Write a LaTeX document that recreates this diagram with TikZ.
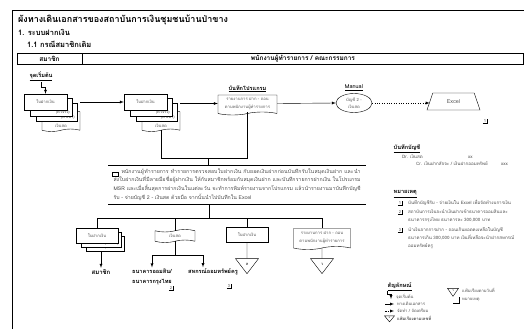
\documentclass[tikz,border=0pt]{standalone}
\usepackage{fontspec}
\setmainfont[Script=Thai]{Loma}
\XeTeXlinebreaklocale "th"
\XeTeXlinebreakskip=0pt plus 1pt
\usetikzlibrary{arrows,shapes.geometric,shapes.symbols,positioning}

\newcommand{\fs}[1]{\fontsize{#1}{1.75\dimexpr#1pt\relax}\selectfont}

\begin{document}
\begin{tikzpicture}[x=1pt, y=-1pt, >=latex, line width=0.4pt,
    txt/.style = {inner sep=0pt, anchor=west, text=black!70, font=\fs{4.5}},
    ttl/.style = {inner sep=0pt, anchor=west, font=\fs{7.5}\bfseries},
    lab/.style = {inner sep=1.5pt, font=\fs{5.6}\bfseries},
    shp/.style = {draw, fill=white, inner sep=0pt, text=black!65, font=\fs{4.2}, align=center},
    wdoc/.style = {shp, tape, tape bend top=none, tape bend height=3pt},
    cash/.style = {shp, tape, tape bend height=2.5pt},
    file/.style = {draw, isosceles triangle, isosceles triangle apex angle=76, isosceles triangle stretches, shape border rotate=-90, inner sep=0pt, font=\fs{4}},
    note/.style = {inner sep=0.7pt, text=black!70, font=\fs{4}},
    tag/.style = {note, anchor=south east, xshift=-1.5pt, yshift=1pt}]
\useasboundingbox (0,0) rectangle (524,329);
\draw (12,329) -- (12,10) -- (524,10);

\node[ttl, font=\fs{9}\bfseries] (t0) at (18,20) {ผังทางเดินเอกสารของสถาบันการเงินชุมชนบ้านป่าขาง};
\node[ttl] (t1) at (18,32) {1. ระบบฝากเงิน};
\node[ttl] (t2) at (27,44) {1.1 กรณีสมาชิกเดิม};
\node[draw, lab, font=\fs{6.5}\bfseries, minimum width=65pt, minimum height=11pt] (hm) at (49.5,58.5) {สมาชิก};
\node[draw, lab, font=\fs{6.5}\bfseries, right=0pt of hm, minimum width=441pt, minimum height=11pt] (hs) {พนักงานผู้ทำรายการ / คณะกรรมการ};
\draw[line width=0.8pt] (hm.south west) -- (hs.south east);

% stacks of slips
\foreach \x/\i in {0/1,100/2}{
  \node[cash, minimum width=38pt, minimum height=21pt, text height=13pt, text depth=1pt] (c\i) at ({\x+61},121) {เงินสด};
  \node[shp, minimum width=41pt, minimum height=18pt, label={[tag]south east:(สำเนา)}] (s\i) at ({\x+56.5},112) {};
  \node[shp, minimum width=42pt, minimum height=18pt, label={[tag]south east:(ตัวจริง)}] (o\i) at ({\x+51},107) {};
  \node[shp, minimum width=43pt, minimum height=16pt] (f\i) at ({\x+45.5},102) {ใบฝากเงิน};
}
\node[lab] (st) at (41,76) {\underline{จุดเริ่มต้น}};
\node[wdoc, minimum width=59pt, minimum height=20pt] (prog) at (247.5,103.5) {รายงานการ ฝาก - ถอน\\ตามพนักงานผู้ทำรายการ};
\node[lab, above=1pt of prog] (progl) {\underline{บันทึกโปรแกรม}};
\node[shp, ellipse, minimum width=36pt, minimum height=19pt] (man) at (354,103) {บัญชี 2 -\\เงินสด};
\node[lab, above=1pt of man, font=\fs{5.5}] (manl) {\underline{Manual}};
\node[shp, trapezium, trapezium stretches, trapezium left angle=65, trapezium right angle=65, minimum width=53pt, minimum height=17pt, font=\fs{5.5}] (xl) at (453.5,101.5) {Excel};
\node[note] (n1) at (485,121) {1};

\draw[->] (st.south) -- ++(0,5) -| (f1.north);
\draw[->] (c1.east |- f1.east) -- (f2.west);
\draw[->] (c2.east |- prog.west) -- (prog.west);
\draw[->] (prog.east) -- (man.west);
\draw[->, dotted] (man.east) -- (man.east -| xl.west);
\coordinate (jn) at (208,158);
\draw (c2.south) |- (prog.south |- jn) -- (prog.south);

\node[txt, anchor=center, text width=247pt, align=justify, font=\fontsize{5.2}{8.6}\selectfont, inner xsep=5pt, inner ysep=3pt, minimum height=39pt] (memo) at (237,184.5) {\hspace{8pt}พนักงานผู้ทำรายการ ทำรายการตรวจสอบใบฝากเงิน กับยอดเงินฝากก่อนบันทึกรับในสมุดเงินฝาก และนำส่งใบฝากเงินที่มีลายมือชื่อผู้ฝากเงิน ให้กับสมาชิกพร้อมกับสมุดเงินฝาก และบันทึกรายการฝากเงิน ในโปรแกรม MSR และเมื่อสิ้นสุดการฝากเงินในแต่ละวัน จะทำการพิมพ์รายงานจากโปรแกรม แล้วนำรายงานมาบันทึกบัญชีรับ - จ่ายบัญชี 2 - เงินสด ด้วยมือ จากนั้นนำไปบันทึกใน Excel};
\draw (memo.north west) -- (memo.north east) (memo.south west) -- (memo.south east);
\node[draw, minimum width=6pt, minimum height=4.5pt, inner sep=0pt, path picture={\fill (path picture bounding box.north west) rectangle ([yshift=-1.2pt]path picture bounding box.north east);}] (chk) at (115.5,174) {};
\draw (jn) -- (memo.north -| jn);

% distribution
\coordinate (bus) at (209,218);
\node[shp, minimum width=38pt, minimum height=15pt, label={[tag]south east:สมุดเงินฝาก}] (b1b) at (105,243.5) {};
\node[shp, minimum width=40pt, minimum height=15pt, label={[tag]south east:(ตัวจริง)}] (b1m) at (101,239.5) {};
\node[shp, minimum width=42pt, minimum height=15pt] (b1) at (97,235.5) {ใบฝากเงิน};
\node[cash, minimum width=40pt, minimum height=13pt] (b2) at (175,236) {เงินสด};
\node[shp, minimum width=42pt, minimum height=15pt] (b3) at (247,235) {ใบฝากเงิน};
\node[wdoc, minimum width=57pt, minimum height=21pt] (b4) at (322,237.5) {รายงานการ ฝาก - ถอน\\ตามพนักงานผู้ทำรายการ};
\node[file, minimum width=23pt, minimum height=15pt] (tr1) at (247,264) {ล};
\node[file, minimum width=23pt, minimum height=15pt] (tr2) at (322,264) {ว};
\node[lab, font=\fs{6}\bfseries] (mem) at (101,272) {สมาชิก};
\node[lab, align=left] (bk1) at (152,277) {ธนาคารออมสิน/\\ธนาคารกรุงไทย};
\node[lab] (bk2) at (213,272) {สหกรณ์ออมทรัพย์ครู};
\node[note] (n2) at (171,288) {2};
\node[note] (n3) at (229,286) {3};

\draw (memo.south -| bus) -- (bus);
\draw (b1.north) |- (b4.north |- bus) -- (b4.north);
\draw (b2.north) -- (b2.north |- bus) (b3.north) -- (b3.north |- bus);
\draw[->] (mem.north |- b1b.south) -- (mem.north);
\coordinate (sp) at (175,255);
\draw (b2.south) -- (sp);
\draw[->] (sp) -| (bk1.north);
\draw[->] (sp) -| ([xshift=-10pt]bk2.north);
\draw (b3) -- (tr1) (b4) -- (tr2);

% right column
\node[lab, anchor=west] (acc) at (392,149) {\underline{บันทึกบัญชี}};
\node[txt] (dr) at (402,157) {Dr. เงินสด};
\node[txt] (drx) at (468,157) {xx};
\node[txt] (cr) at (416,164) {Cr. เงินฝากสัจจะ / เงินฝากออมทรัพย์};
\node[txt] (crx) at (501,164) {xxx};
\node[lab, anchor=west] (rem) at (392,194) {\underline{หมายเหตุ}};
\node[note] (r1) at (400,203) {1};
\node[txt] (r1t) at (408,203) {บันทึกบัญชีรับ - จ่ายเงินใน Excel เพื่อจัดทำงบการเงิน};
\node[note] (r2) at (400,212) {2};
\node[txt] (r2t) at (408,212) {สถาบันการเงินจะนำเงินฝากเข้าธนาคารออมสินและ};
\node[txt] (r2u) at (408,220) {ธนาคารกรุงไทย ธนาคารละ 300,000 บาท};
\node[note] (r3) at (400,230) {3};
\node[txt] (r3t) at (408,230) {นำเงินจากการฝาก - ถอนเกินยอดคงเหลือในบัญชี};
\node[txt] (r3u) at (408,238) {ธนาคารเกิน 300,000 บาท เงินที่เหลือจะนำฝากสหกรณ์};
\node[txt] (r3v) at (408,246) {ออมทรัพย์ครู};

% legend
\node[lab, anchor=west] (sym) at (386,287) {\underline{สัญลักษณ์}};
\coordinate (la1) at (387,291); \coordinate (la2) at (391,299);
\draw[->] (la1) -- ++(0,3) -| (la2);
\node[txt, font=\fs{4.2}] (lt1) at (396,297) {จุดเริ่มต้น};
\coordinate (lb1) at (385,304); \coordinate (lb2) at (394,304);
\draw[->] (lb1) -- (lb2);
\node[txt, font=\fs{4.2}] (lt2) at (397,304) {ทางเดินเอกสาร};
\coordinate (lc1) at (385,311); \coordinate (lc2) at (394,311);
\draw[->, dash pattern=on 1.5pt off 1pt] (lc1) -- (lc2);
\node[txt, font=\fs{4.2}] (lt3) at (397,311) {จัดทำ / จัดเตรียม};
\node[file, minimum width=10pt, minimum height=6pt, font=\fs{2.5}] (lf1) at (389.5,318) {ล};
\node[txt, font=\fs{4.2}\bfseries] (lt4) at (397,318) {แฟ้มเรียงตามเลขที่};
\node[file, minimum width=11pt, minimum height=8pt, font=\fs{3}] (lf2) at (453,291) {ว};
\node[txt, font=\fs{4.2}] (lt5) at (462,290) {แฟ้มเรียงตามวันที่};
\node[note, minimum width=5pt, minimum height=5pt] (ln) at (456,300) {};
\node[txt, font=\fs{4.2}] (lt6) at (462,300) {หมายเหตุ};

\foreach \n in {n1,n2,n3,r1,r2,r3,ln}
  \draw[line width=0.3pt] (\n.south west) -- (\n.south east) -- (\n.north east);
\end{tikzpicture}
\end{document}
